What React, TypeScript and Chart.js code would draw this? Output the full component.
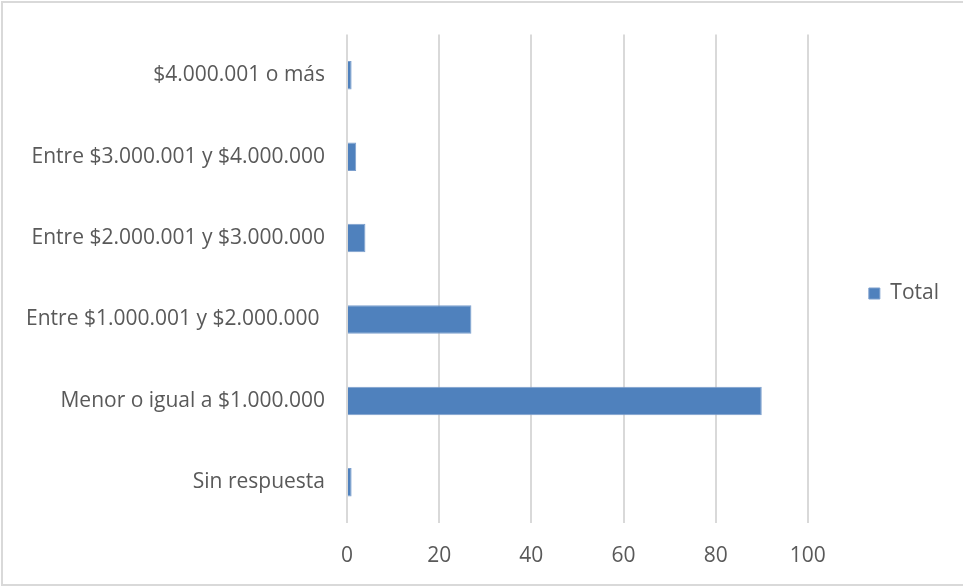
import React, { useEffect, useRef } from "react";
import { Chart, registerables } from "chart.js";

Chart.register(...registerables);

const categories: string[] = [
  "$4.000.001 o más",
  "Entre $3.000.001 y $4.000.000",
  "Entre $2.000.001 y $3.000.000",
  "Entre $1.000.001 y $2.000.000 ",
  "Menor o igual a $1.000.000",
  "Sin respuesta",
];
const totalValues: number[] = [1, 2, 4, 27, 90, 1];
const seriesName = "Total";
const xMin = 0;
const xMax = 100;
const xStep = 20;

const W = 963;
const H = 587;

export default function App() {
  const ref = useRef<HTMLCanvasElement | null>(null);

  useEffect(() => {
    if (!ref.current) return;
    const font = { family: "'Open Sans', sans-serif", size: 21 };
    const chart = new Chart(ref.current, {
      type: "bar",
      data: {
        labels: categories,
        datasets: [
          {
            label: seriesName,
            data: totalValues,
            backgroundColor: "#4f81bd",
            borderColor: "#7c9fcd",
            borderWidth: 1,
            barPercentage: 0.35,
            categoryPercentage: 1,
            xAxisID: "x",
          },
        ],
      },
      options: {
        indexAxis: "y",
        responsive: false,
        animation: false,
        devicePixelRatio: 1,
        layout: { padding: { top: 0, right: 14, bottom: 0, left: 0 } },
        plugins: {
          tooltip: { enabled: false },
          legend: {
            position: "right",
            align: "center",
            labels: {
              font,
              color: "#595959",
              boxWidth: 11,
              boxHeight: 11,
              padding: 61,
            },
          },
        },
        scales: {
          x: {
            min: xMin,
            max: xMax,
            position: "bottom",
            ticks: { stepSize: xStep, font, color: "#595959", padding: 20 },
            grid: { color: "#d9d9d9", lineWidth: 2, drawTicks: false },
            border: { display: false },
            afterFit: (s: any) => {
              s.height = H - 523;
            },
          },
          xTop: {
            type: "linear",
            position: "top",
            display: true,
            ticks: { display: false },
            grid: { display: false, drawTicks: false },
            border: { display: false },
            afterFit: (s: any) => {
              s.height = 32;
            },
          },
          y: {
            ticks: { font, color: "#595959", padding: 22 },
            grid: { display: false, drawTicks: false },
            border: { display: false },
            afterFit: (s: any) => {
              s.width = 347;
            },
          },
        },
      },
    });
    return () => chart.destroy();
  }, []);

  return (
    <div style={{ position: "absolute", left: 0, top: 0, width: W, height: H, overflow: "hidden", background: "#fff" }}>
      <div
        style={{
          position: "absolute",
          left: 1,
          top: 1,
          width: 980,
          height: 581,
          border: "2px solid #d9d9d9",
        }}
      />
      <canvas ref={ref} width={W} height={H} style={{ position: "absolute", left: 0, top: 0 }} />
    </div>
  );
}
